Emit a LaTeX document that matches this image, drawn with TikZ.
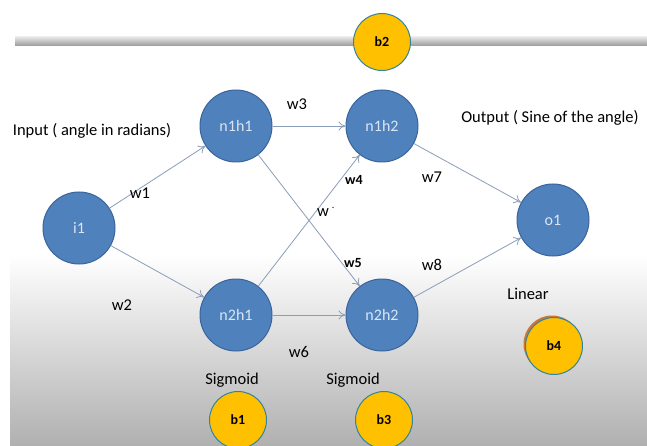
\documentclass[tikz,border=0pt]{standalone}
\usepackage{fontspec}
\setmainfont{Carlito}
\usetikzlibrary{arrows.meta,shadings}
\definecolor{nblue}{HTML}{4F81BD}
\definecolor{nborder}{HTML}{3A659C}
\definecolor{ntext}{HTML}{DCE6F2}
\definecolor{byellow}{HTML}{FFC000}
\definecolor{bborder}{HTML}{31859C}
\definecolor{lineclr}{HTML}{8C9DB8}
\definecolor{bgray}{HTML}{B0B0B0}
\definecolor{bshadow}{HTML}{C8783A}
\tikzset{
  neuron/.style={circle,fill=nblue,draw=nborder,line width=1pt,minimum size=72pt,inner sep=0pt,text=ntext,font=\fontsize{16}{18}\selectfont},
  bias/.style={circle,fill=byellow,draw=bborder,line width=1pt,minimum size=57pt,inner sep=0pt,font=\bfseries\fontsize{14}{16}\selectfont},
  conn/.style={draw=lineclr,line width=0.8pt,-{To[length=7pt,width=9pt,open]}},
  lbl/.style={inner sep=0pt,font=\fontsize{16.5}{19}\selectfont},
  blbl/.style={inner sep=0pt,font=\bfseries\fontsize{14}{16}\selectfont},
}
\begin{document}
\begin{tikzpicture}[x=1pt,y=-1pt]
\useasboundingbox (0,0) rectangle (647,446);
\fill[white] (0,0) rectangle (647,446);
\shade[top color=white,bottom color=bgray] (10,255) rectangle (647,446);
% top bar
\shade[top color=gray!20,bottom color=gray!80] (15,37) rectangle (647,46);
% nodes
\node[neuron] (i1) at (79,228) {i1};
\node[neuron] (n1h1) at (236,126) {n1h1};
\node[neuron] (n1h2) at (382,126) {n1h2};
\node[neuron] (n2h1) at (236,315) {n2h1};
\node[neuron] (n2h2) at (382,315) {n2h2};
\node[neuron] (o1) at (553,220) {o1};
\node[bias] (b2) at (382,42) {b2};
\node[bias] (b1) at (238,420) {b1};
\node[bias] (b3) at (384,420) {b3};
\fill[bshadow] (552,344) circle (28.5pt);
\node[bias] (b4) at (554,346) {b4};
% connectors
\draw[conn] (i1) -- (n1h1);
\draw[conn] (i1) -- (n2h1);
\draw[conn] (n1h1) -- (n1h2);
\draw[conn] (n1h1) -- (n2h2);
\draw[conn] (n2h1) -- (n1h2);
\draw[conn] (n2h1) -- (n2h2);
\draw[conn] (n1h2) -- (o1);
\draw[conn] (n2h2) -- (o1);
% labels
\node[lbl] (tin) at (92,131) {Input ( angle in radians)};
\node[lbl] (tout) at (550,118) {Output ( Sine of the angle)};
\node[lbl] (w1) at (140,193) {w1};
\node[lbl] (w2) at (122,305) {w2};
\node[lbl] (w3) at (297,104) {w3};
\node[blbl] (w4) at (354,180) {w4};
\node[lbl,anchor=west] (wx) at (317,212) {w\,\raisebox{1.0ex}{\fontsize{10}{10}\selectfont .}};
\node[blbl] (w5) at (353,263) {w5};
\node[lbl] (w6) at (299,352) {w6};
\node[lbl] (w7) at (432,177) {w7};
\node[lbl] (w8) at (432,265) {w8};
\node[lbl] (s1) at (232,380) {Sigmoid};
\node[lbl] (s2) at (353,380) {Sigmoid};
\node[lbl] (lin) at (528,294) {Linear};
\end{tikzpicture}
\end{document}
